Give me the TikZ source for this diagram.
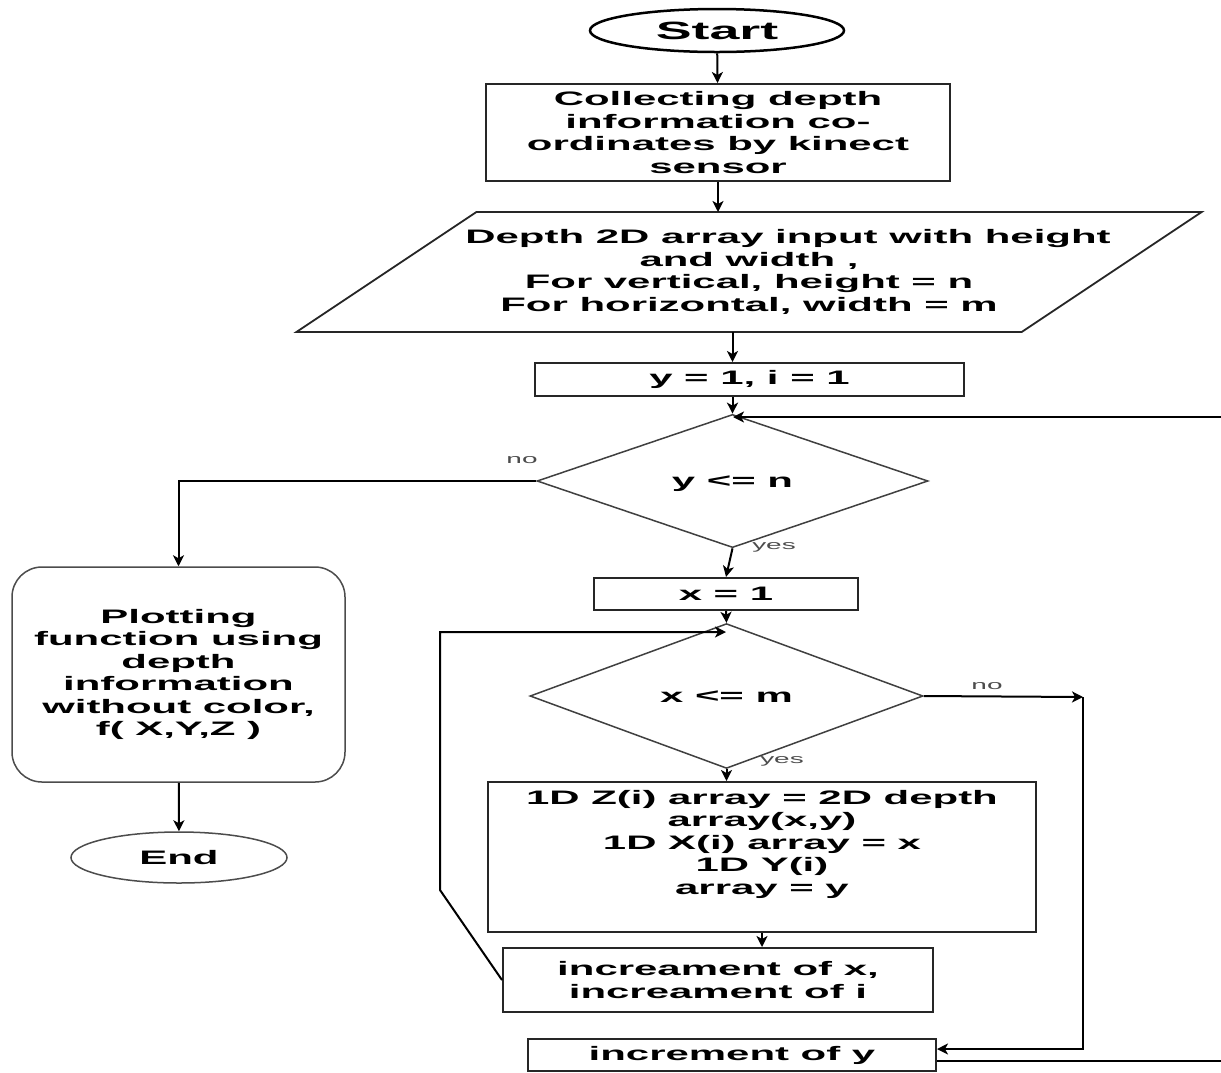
\documentclass[tikz,border=0pt]{standalone}
\usepackage{fontspec}
\usepackage{tikz}
\usetikzlibrary{arrows,arrows.meta,shapes,calc,positioning}
\newfontfamily\flowfont[FakeStretch=2.15]{Liberation Sans}
\newcommand{\flowtext}{\flowfont\bfseries\fontsize{19.5}{22.5}\selectfont}
\tikzstyle{edge}    =[->, >={Stealth[length=11pt, width=11pt, inset=3pt]},
                      line width=2pt]
\tikzstyle{stepbox} =[rectangle, draw=black!85, line width=2pt,
                      inner sep=0pt, align=center, font=\flowtext]
\tikzstyle{terminal}=[ellipse, draw, inner sep=0pt, font=\flowtext]
\tikzstyle{decision}=[diamond, draw=black!75, line width=1.5pt, inner sep=0pt,
                      text height=12pt, text depth=0pt, font=\flowtext]
\tikzstyle{branch}  =[inner sep=1pt, text=black!70,
                      font=\flowfont\fontsize{13}{15}\selectfont]

\begin{document}
\begin{tikzpicture}[x=1pt, y=-1pt]
    \useasboundingbox (0,0) rectangle (1221,1072);
    \fill[white] (0,0) rectangle (1221,1072);
    \clip (0,0) rectangle (1221,1072);
    % main column
    \node (start) [terminal, line width=2.5pt, minimum width=254pt, minimum height=43pt,
                   font=\flowfont\bfseries\fontsize{25}{30}\selectfont] at (717,30.5) {Start};
    \node (collect) [stepbox, minimum width=464pt, minimum height=97pt] at (718,132.5)
          {Collecting depth\\information co-\\ordinates by kinect\\sensor};
    \node (input) [stepbox, draw=none, minimum width=722pt, minimum height=118pt] at (749,272)
          {\hspace*{78pt}Depth 2D array input with height\\and width ,\\For vertical, height = n\\For horizontal, width = m};
    \draw[black!85, line width=1.8pt] ([xshift=-90pt]input.south west) -- ([xshift=90pt]input.north west)
          -- ([xshift=90pt]input.north east) -- ([xshift=-90pt]input.south east) -- cycle;
    \node (init) [stepbox, minimum width=429pt, minimum height=33pt] at (749.5,379.5) {y = 1, i = 1};
    \node (ycheck) [decision, minimum width=391pt, minimum height=85pt] at (732.5,481) {y <= n};
    \node (xinit) [stepbox, minimum width=264pt, minimum height=32pt] at (726,594) {x = 1};
    \node (xcheck) [decision, minimum width=393pt, minimum height=85pt] at (726.5,696) {x <= m};
    \node (fill) [stepbox, minimum width=548pt, minimum height=150pt] at (762,857)
          {1D Z(i) array = 2D depth\\array(x,y)\\1D X(i) array = x\\1D Y(i)\\array = y\\\strut};
    \node (incx) [stepbox, minimum width=430pt, minimum height=64pt] at (718,980)
          {increament of x,\\increament of i};
    \node (incy) [stepbox, minimum width=408pt, minimum height=32pt] at (732,1055) {increment of y};
    % left branch
    \node (plot) [stepbox, rounded corners=30pt, draw=black!70, line width=1.5pt,
                  minimum width=333pt, minimum height=215pt] at (178.5,674.5)
          {Plotting\\function using\\depth\\information\\without color,\\f( X,Y,Z )};
    \node (stop) [terminal, draw=black!70, line width=1.5pt, minimum width=216pt,
                  minimum height=51pt] at (179,857.5) {End};
    % branch labels
    \node (no1) [branch] at (522,460) {no};
    \node (yes1) [branch] at (774,547) {yes};
    \node (no2) [branch] at (987,686) {no};
    \node (yes2) [branch] at (782,761) {yes};
    % joints
    \coordinate (yjoin) at (733,417);
    \coordinate (xjoin) at (726,632);
    \coordinate (nojoin) at (1083,697);
    % connectors
    \draw[edge] (start) to (collect);
    \draw[edge] (collect.south) to (collect.south |- input.north);
    \draw[edge] (input.south -| ycheck.north) to (init.north -| ycheck.north);
    \draw[edge] (init.south -| ycheck.north) to (ycheck.north);
    \draw[edge] (ycheck.south) to (xinit.north);
    \draw[edge] (xinit.south) to (xcheck.north);
    \draw[edge] (xcheck.south) to (xcheck.south |- fill.north);
    \draw[edge] (fill.south) to (fill.south |- incx.north);
    \draw[edge] (ycheck.west) -| (plot.north);
    \draw[edge] (plot) to (stop);
    \draw[edge] (incx.west) -- ++(-62,-90) |- (xjoin);
    \draw[edge] (xcheck.east) -- (nojoin);
    \draw[edge] (nojoin) |- ([yshift=6pt]incy.east);
    \draw[edge] ([yshift=-6pt]incy.east) -- (1232,1061) |- (yjoin);
\end{tikzpicture}
\end{document}
